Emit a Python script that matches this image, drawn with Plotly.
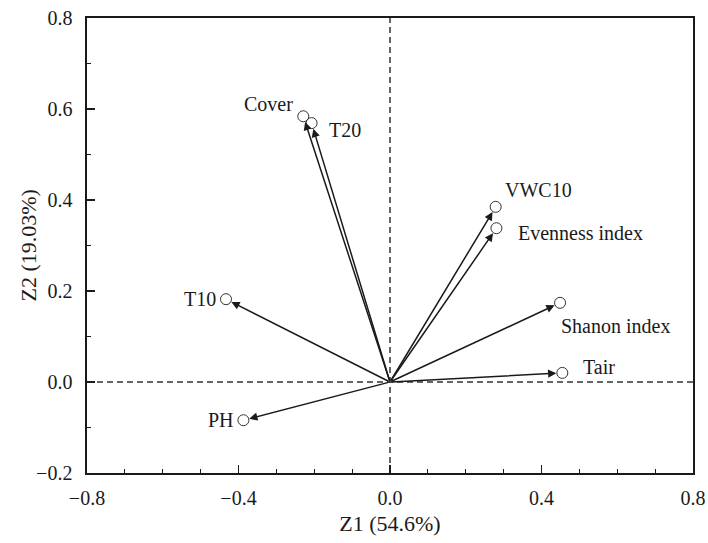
import plotly.graph_objects as go

# ---- data ----
variables = ["Cover", "T20", "VWC10", "Evenness index", "Shanon index", "Tair", "T10", "PH"]
z1 = [-0.229, -0.207, 0.279, 0.281, 0.449, 0.455, -0.433, -0.387]
z2 = [0.584, 0.569, 0.385, 0.338, 0.174, 0.020, 0.182, -0.084]
x_ticks = [-0.8, -0.4, 0.0, 0.4, 0.8]
y_ticks = [-0.2, 0.0, 0.2, 0.4, 0.6, 0.8]
x_title = "Z1 (54.6%)"
y_title = "Z2 (19.03%)"

# ---- label placement (style) ----
placement = {
    "Cover": ("right", -8, 12),
    "T20": ("left", 15, -7),
    "VWC10": ("left", 7, 17),
    "Evenness index": ("left", 20, -5),
    "Shanon index": ("left", -1, -23),
    "Tair": ("left", 19, 6),
    "T10": ("right", -8, 0),
    "PH": ("right", -7, 0),
}

FONT = "Liberation Serif"
INK = "#1a1a1a"

fig = go.Figure()

# arrows from origin
for v, x, y in zip(variables, z1, z2):
    fig.add_annotation(
        x=x, y=y, ax=0, ay=0, xref="x", yref="y", axref="x", ayref="y",
        showarrow=True, arrowhead=2, arrowsize=1.1, arrowwidth=1.5,
        arrowcolor=INK, standoff=6, text="",
    )

# end circles
fig.add_trace(go.Scatter(
    x=z1, y=z2, mode="markers",
    marker=dict(symbol="circle-open", size=11, color="#333333", line=dict(width=1)),
    hoverinfo="skip", showlegend=False,
))

# labels
for v, x, y in zip(variables, z1, z2):
    anc, dx, dy = placement[v]
    fig.add_annotation(
        x=x, y=y, xref="x", yref="y", text=v, showarrow=False,
        xanchor=anc, yanchor="middle", xshift=dx, yshift=dy,
        font=dict(family=FONT, size=20, color=INK),
    )

# y-axis title
fig.add_annotation(
    x=0, y=0.5, xref="paper", yref="paper", xshift=-59, text=y_title,
    textangle=-90, showarrow=False, xanchor="center", yanchor="middle",
    font=dict(family=FONT, size=22, color=INK),
)

# dashed reference lines
fig.add_hline(y=0, line=dict(color="#333333", width=1.5, dash="6px,4px"), layer="below")
fig.add_vline(x=0, line=dict(color="#333333", width=1.5, dash="6px,4px"), layer="below")

axis_common = dict(
    showgrid=False, zeroline=False, showline=True, linecolor=INK, linewidth=1.6,
    mirror=True, ticks="inside", ticklen=8, tickwidth=1.5, tickcolor=INK,
    tickformat=".1f", automargin=False, ticklabeloverflow="allow",
    tickfont=dict(family=FONT, size=20, color=INK),
    minor=dict(ticks="inside", ticklen=4, tickwidth=1.2, tickcolor=INK, dtick=0.1),
)

fig.update_xaxes(
    range=[-0.8, 0.8], tickvals=x_ticks, ticklabelstandoff=6,
    title=dict(text=x_title, font=dict(family=FONT, size=22, color=INK), standoff=8),
    **axis_common,
)
fig.update_yaxes(
    range=[-0.2, 0.8], tickvals=y_ticks, ticklabelstandoff=9,
    **axis_common,
)

fig.update_layout(
    width=708, height=543,
    margin=dict(l=87, r=15, t=18, b=70),
    paper_bgcolor="white", plot_bgcolor="white",
    font=dict(family=FONT, color=INK),
    showlegend=False,
)

# remove the default page margin so the figure fills the window exactly
fig.write_html(
    "out.html",
    config={"displayModeBar": False, "staticPlot": True},
    post_script="document.body.style.margin='0';document.body.style.overflow='hidden';",
)
